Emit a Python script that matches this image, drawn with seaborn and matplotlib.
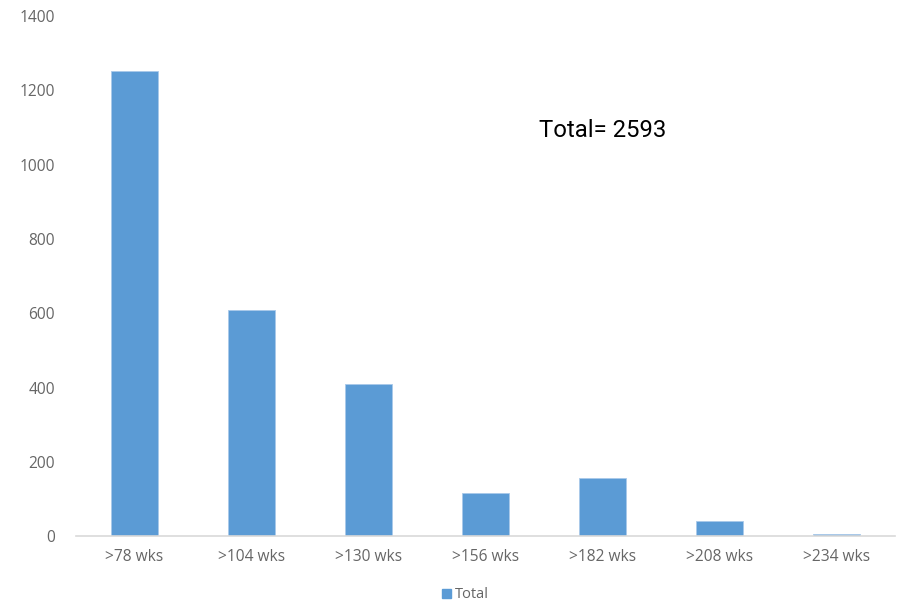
import matplotlib
matplotlib.use("Agg")
import matplotlib.pyplot as plt
import seaborn as sns
import pandas as pd
from matplotlib.patches import Patch

categories = [">78 wks", ">104 wks", ">130 wks", ">156 wks", ">182 wks", ">208 wks", ">234 wks"]
values = [1252, 610, 410, 117, 157, 41, 6]
yticks = [0, 200, 400, 600, 800, 1000, 1200, 1400]
total_label = "Total= 2593"

sns.set_theme(style="white")
plt.rcParams['font.family'] = ['Open Sans', 'DejaVu Sans']

df = pd.DataFrame({"cat": categories, "val": values})

fig = plt.figure(figsize=(9.02, 6.04), dpi=100)
ax = fig.add_axes([0.0843, 0.1118, 0.9077, 0.8617])
bar_color = "#5b9bd5"
sns.barplot(data=df, x="cat", y="val", color=bar_color, width=0.4, ax=ax,
            saturation=1, edgecolor="#a9c9ea", linewidth=0.6)

ax.set_xlim(-0.5, len(categories) - 0.5)
ax.set_ylim(0, 1400)
ax.set_yticks(yticks)
ax.set_yticklabels([str(t) for t in yticks])
ax.set_xlabel("")
ax.set_ylabel("")

for s in ["top", "right", "left"]:
    ax.spines[s].set_visible(False)
ax.spines["bottom"].set_color("#d9d9d9")
ax.spines["bottom"].set_linewidth(1.2)
ax.tick_params(axis="both", length=0, colors="#666666", labelsize=11.2)
ax.tick_params(axis="y", pad=15)
ax.tick_params(axis="x", pad=9)

ax.text(0.5655, 0.78, total_label, transform=ax.transAxes, fontsize=17.2,
        family="Roboto", color="black", ha="left", va="center")

handles = [Patch(facecolor=bar_color, edgecolor=bar_color, label="Total")]
fig.legend(handles=handles, loc="center", bbox_to_anchor=(0.516, 0.015),
           frameon=False, fontsize=10.5, handlelength=0.6, handleheight=0.6,
           handletextpad=0.3, labelcolor="#666666")

fig.savefig("out.png", dpi=100)
